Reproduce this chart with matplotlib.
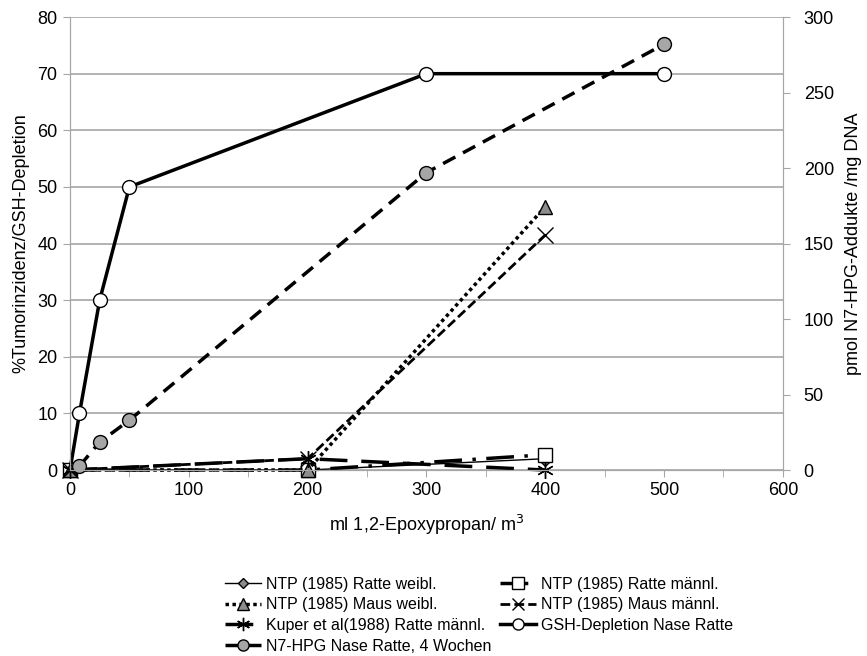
import matplotlib.pyplot as plt
from matplotlib.lines import Line2D

plt.rcParams['font.family'] = ['Liberation Sans', 'DejaVu Sans']

# data
x_ntp = [0, 200, 400]
ratte_weibl = [0, 0, 2]
ratte_maennl = [0, 0, 2.7]
maus_weibl = [0, 0, 46.5]
maus_maennl = [0, 2, 41.5]
kuper_ratte = [0, 2, 0]

gsh_x = [0, 8, 25, 50, 300, 500]
gsh_y = [0, 10, 30, 50, 70, 70]

n7_x = [8, 25, 50, 300, 500]
n7_y = [2.6, 18.5, 33, 197, 282]

labels = ["NTP (1985) Ratte weibl.", "NTP (1985) Ratte männl.",
          "NTP (1985) Maus weibl.", "NTP (1985) Maus männl.",
          "Kuper et al(1988) Ratte männl.", "GSH-Depletion Nase Ratte",
          "N7-HPG Nase Ratte, 4 Wochen"]

grey = '#a6a6a6'
fig = plt.figure(figsize=(8.67, 6.56), dpi=100)
ax = fig.add_axes([0.0807, 0.2835, 0.8223, 0.6905])
ax2 = ax.twinx()

gsh_style = dict(color='black', lw=2.5, marker='o', ms=10, mfc='white', mec='black')
l6, = ax.plot(gsh_x, gsh_y, markevery=[1, 2, 3, 4, 5], **gsh_style)
l1, = ax.plot(x_ntp, ratte_weibl, color='black', lw=1, marker='D', ms=7,
              mfc='#8c8c8c', mec='black', label=labels[0])
l2, = ax.plot(x_ntp, ratte_maennl, color='black', lw=2.5, dashes=(8, 3, 1, 3),
              marker='s', ms=10, mfc='white', mec='black', label=labels[1])
l3, = ax.plot(x_ntp, maus_weibl, color='black', lw=2.5, dashes=(1, 1),
              marker='^', ms=10, mfc='#8c8c8c', mec='black', label=labels[2])
l4, = ax.plot(x_ntp, maus_maennl, color='black', lw=2, dashes=(3.5, 1.5),
              marker='x', ms=11, mew=1, mec='black', label=labels[3])
l5, = ax.plot(x_ntp, kuper_ratte, color='black', lw=2.5, dashes=(8, 4),
              marker=(6, 2, 0), ms=12, mew=1, mec='black', label=labels[4])
l7, = ax2.plot(n7_x, n7_y, color='black', lw=2.5, dashes=(4, 2.5),
               marker='o', ms=10, mfc='#a6a6a6', mec='black', label=labels[6])
for ln in (l1, l2, l3, l4, l5, l6, l7):
    ln.set_clip_on(False)
gsh_proxy = Line2D([], [], label=labels[5], **gsh_style)

ax.set_xlim(0, 600)
ax.set_ylim(0, 80)
ax2.set_ylim(0, 300)
ax.set_xticks(range(0, 601, 100))
ax.set_xticks(range(50, 600, 100), minor=True)
ax.set_yticks(range(0, 81, 10))
ax2.set_yticks(range(0, 301, 50))
ax.grid(axis='y', color=grey, lw=1.2)
ax.set_axisbelow(True)

for a in (ax, ax2):
    for s in a.spines.values():
        s.set_color(grey)
    a.spines['top'].set_visible(False)
    a.tick_params(which='both', color=grey, labelsize=13, length=5, direction='out')
ax.tick_params(axis='y', pad=4)
ax2.tick_params(axis='y', pad=10)

ax.set_xlabel("ml 1,2-Epoxypropan/ m$^3$", fontsize=13, labelpad=10)
ax.set_ylabel("%Tumorinzidenz/GSH-Depletion", fontsize=13, labelpad=6)
ax2.set_ylabel("pmol N7-HPG-Addukte /mg DNA", fontsize=13, labelpad=8)

handles = [l1, l3, l5, l7, l2, l4, gsh_proxy]
fig.legend(handles=handles, labels=[h.get_label() for h in handles],
           loc='upper left', bbox_to_anchor=(0.25, 0.133), ncol=2,
           frameon=False, fontsize=11.5, handlelength=2.3,
           handletextpad=0.3, columnspacing=0.5, labelspacing=0.35,
           borderpad=0, markerscale=0.8)

fig.savefig('out.png', dpi=100)
